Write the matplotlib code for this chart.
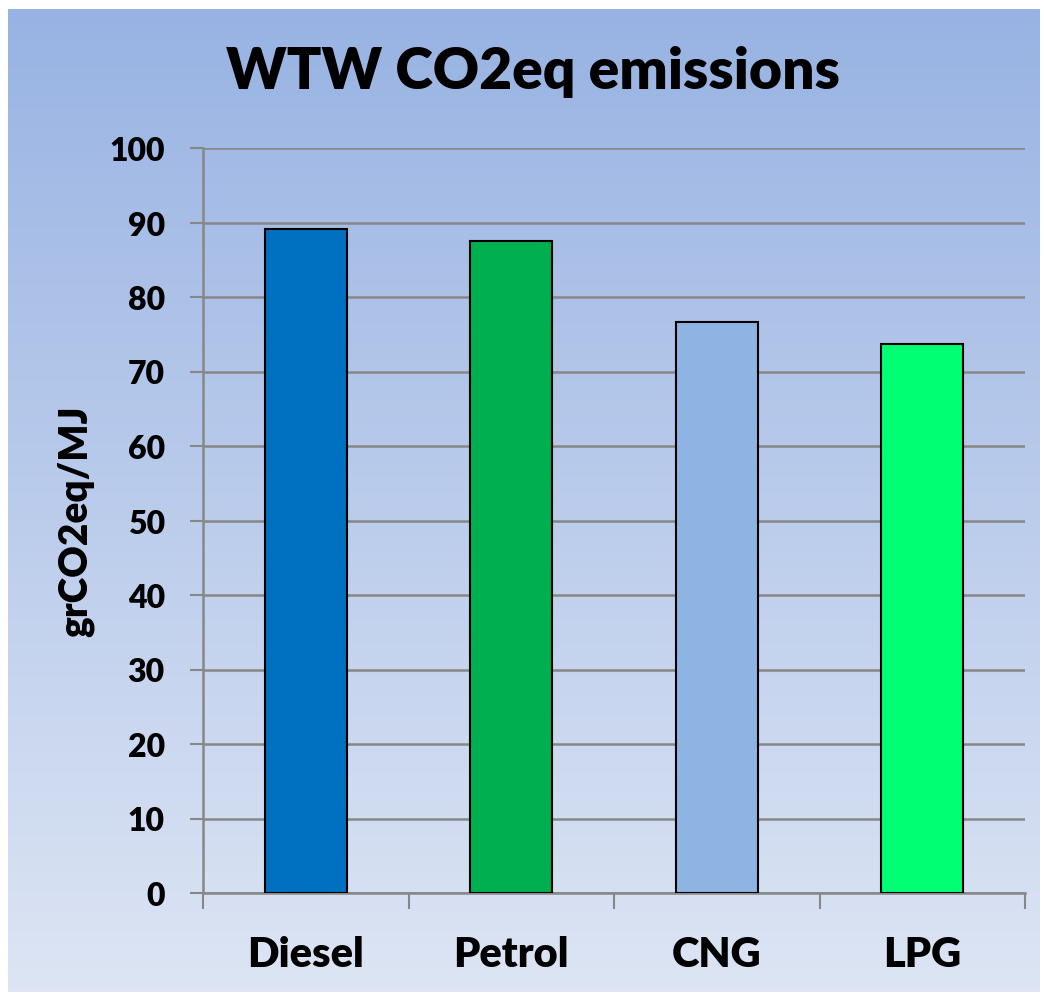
import numpy as np
import matplotlib
matplotlib.use("Agg")
import matplotlib.pyplot as plt
from matplotlib.colors import LinearSegmentedColormap

categories = ["Diesel", "Petrol", "CNG", "LPG"]
values = [89.1, 87.5, 76.7, 73.7]
colors = ["#0070C0", "#00B050", "#8EB4E3", "#00FF72"]
yticks = [0, 10, 20, 30, 40, 50, 60, 70, 80, 90, 100]

plt.rcParams['font.family'] = ['Lato', 'DejaVu Sans']
plt.rcParams['font.weight'] = 'bold'

W, H = 1044, 995
fig = plt.figure(figsize=(W/100, H/100), dpi=100, facecolor="white")

# gradient background panel
bg = fig.add_axes([8/W, 1-993/H, (1040-8)/W, (993-10)/H])
cmap = LinearSegmentedColormap.from_list("g", ["#98B3E3", "#DDE5F4"])
grad = np.linspace(0, 1, 256).reshape(-1, 1)
bg.imshow(grad, aspect="auto", cmap=cmap, extent=[0, 1, 0, 1], origin="upper")
bg.set_axis_off()

ax = fig.add_axes([203/W, 1-894/H, (1025-203)/W, (894-149)/H])
ax.patch.set_alpha(0)
x = np.arange(len(categories))
ax.bar(x, values, width=0.4, color=colors, edgecolor="black", linewidth=1.5, zorder=3)
ax.set_xlim(-0.5, len(categories)-0.5)
ax.set_ylim(0, 100)
ax.set_yticks(yticks)
ax.set_yticklabels([str(t) for t in yticks], fontsize=23, fontweight="heavy")
ax.yaxis.grid(True, color="#878787", linewidth=1.8, zorder=0)
ax.set_axisbelow(True)

ax.set_xticks(np.arange(-0.5, len(categories), 1.0))
ax.set_xticklabels([])
ax.set_xticks(x, minor=True)
ax.set_xticklabels(categories, minor=True, fontsize=30, fontweight="heavy")
ax.tick_params(axis="x", which="major", length=11.5, width=1.5, color="#878787")
ax.tick_params(axis="x", which="minor", length=0, pad=30)
ax.tick_params(axis="y", length=9.5, width=1.5, color="#878787", pad=18)

for s in ["top", "right"]:
    ax.spines[s].set_visible(False)
for s in ["left", "bottom"]:
    ax.spines[s].set_color("#878787")
    ax.spines[s].set_linewidth(1.8)

ax.set_ylabel("grCO2eq/MJ", fontsize=28, fontweight="heavy")
ax.yaxis.set_label_coords((94-203)/822, 0.5)
fig.text(533/W, 1-72/H, "WTW CO2eq emissions", fontsize=41, fontweight="heavy",
         ha="center", va="center")

fig.savefig("out.png", dpi=100, facecolor="white")
